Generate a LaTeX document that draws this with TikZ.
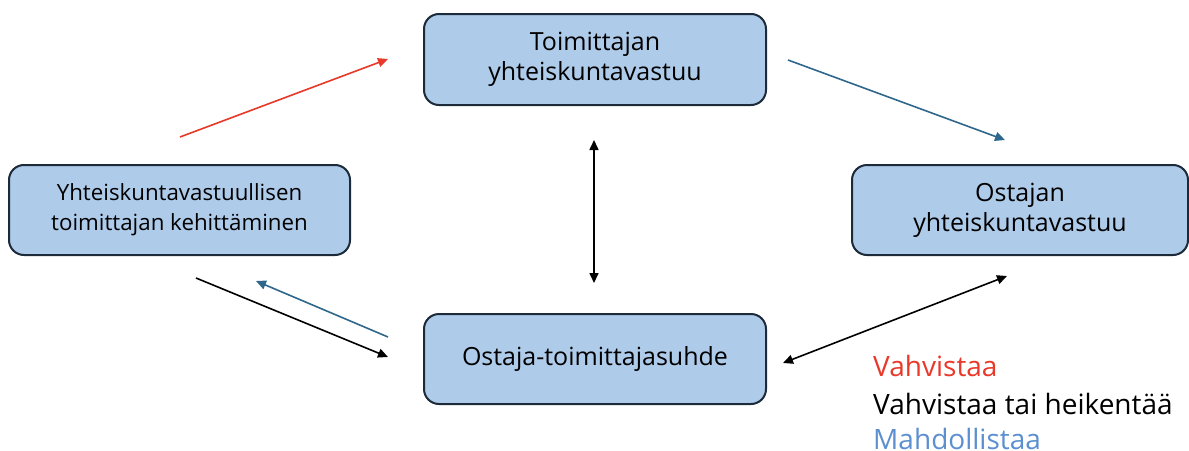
\documentclass[tikz,border=0pt]{standalone}
\usepackage{fontspec}
\setmainfont{Open Sans}
\usetikzlibrary{arrows.meta}
\definecolor{boxfill}{HTML}{AECBEA}
\definecolor{boxline}{HTML}{1C2A3A}
\definecolor{arrred}{HTML}{E8392A}
\definecolor{arrblue}{HTML}{2F678C}
\definecolor{legblue}{HTML}{5B8FD0}
\tikzset{
  box/.style={draw=boxline, line width=2pt, fill=boxfill, rounded corners=15pt,
    align=center, inner sep=0pt, font=\fontsize{25}{30}\selectfont},
  conn/.style={line width=1.6pt, -{Triangle[length=10pt,width=9pt]}},
  biconn/.style={line width=1.6pt, {Triangle[length=10pt,width=9pt]}-{Triangle[length=10pt,width=9pt]}},
  leg/.style={anchor=west, inner sep=0pt, font=\fontsize{28}{32}\selectfont}
}
\begin{document}
\begin{tikzpicture}[x=1pt,y=-1pt]
\useasboundingbox (0,0) rectangle (1189,450);
\node[box, minimum width=342pt, minimum height=91pt] (top) at (595,59.5) {Toimittajan\\yhteiskuntavastuu};
\node[box, minimum width=341pt, minimum height=90pt, font=\fontsize{22.3}{30}\selectfont] (left) at (179.5,210) {Yhteiskuntavastuullisen\\toimittajan kehittäminen};
\node[box, minimum width=336pt, minimum height=90pt] (right) at (1020,210) {Ostajan\\yhteiskuntavastuu};
\node[box, minimum width=342pt, minimum height=90pt] (bottom) at (595,359) {Ostaja-toimittajasuhde};

\coordinate (a1) at (180,137); \coordinate (a2) at (388,59);
\coordinate (b1) at (788,60); \coordinate (b2) at (1005,140);
\coordinate (c1) at (594,140); \coordinate (c2) at (594,283);
\coordinate (d1) at (196,278); \coordinate (d2) at (388,357);
\coordinate (e1) at (388,337); \coordinate (e2) at (256,281);
\coordinate (f1) at (783,363); \coordinate (f2) at (1007,276);

\draw[conn, arrred] (a1) -- (a2);
\draw[conn, arrblue] (b1) -- (b2);
\draw[biconn, black] (c1) -- (c2);
\draw[conn, black] (d1) -- (d2);
\draw[conn, arrblue] (e1) -- (e2);
\draw[biconn, black] (f1) -- (f2);

\node[leg, text=arrred] (l1) at (873,366) {Vahvistaa};
\node[leg, text=black] (l2) at (873,404) {Vahvistaa tai heikentää};
\node[leg, text=legblue] (l3) at (873,439) {Mahdollistaa};
\end{tikzpicture}
\end{document}
